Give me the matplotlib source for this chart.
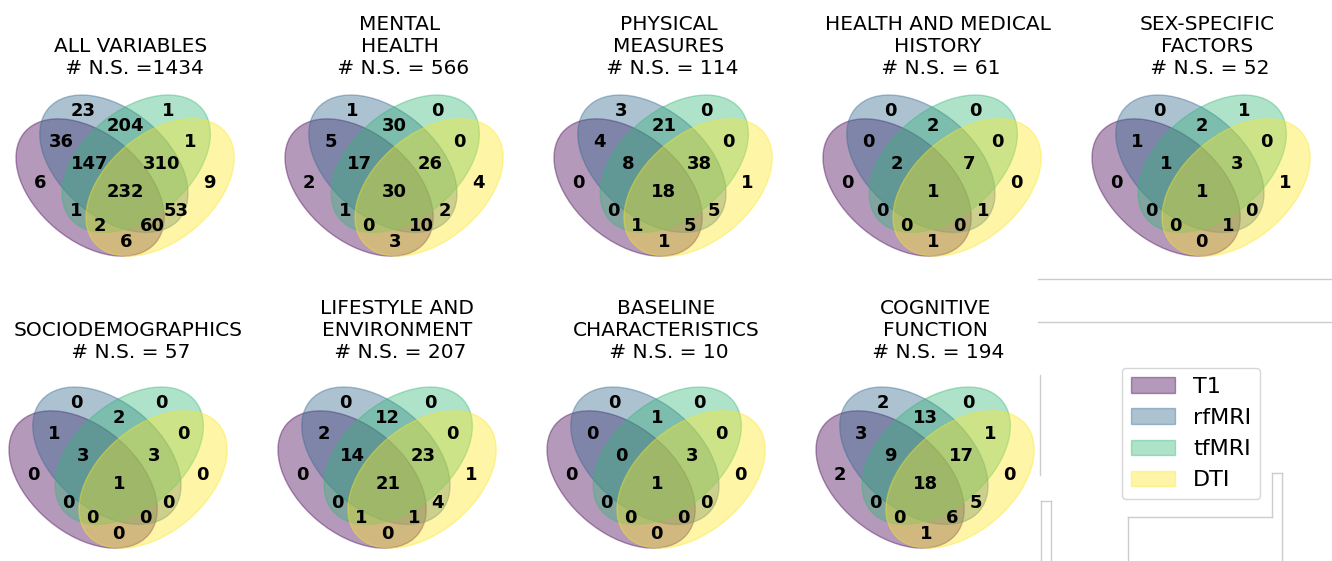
import numpy as np
import matplotlib
matplotlib.use('Agg')
from matplotlib import pyplot as plt
from matplotlib import patches
from matplotlib.lines import Line2D

# four imaging modalities (sets A, B, C, D)
modalities = ['T1', 'rfMRI', 'tfMRI', 'DTI']
# region keys, 1 = inside set (T1 rfMRI tfMRI DTI)
regions = ['1000', '0100', '0010', '0001', '1100', '1010', '1001', '0110',
           '0101', '0011', '1110', '1101', '1011', '0111', '1111']

titles = ['ALL VARIABLES\n # N.S. =1434',
          'MENTAL\nHEALTH\n # N.S. = 566',
          'PHYSICAL\nMEASURES\n # N.S. = 114',
          'HEALTH AND MEDICAL\nHISTORY\n # N.S. = 61',
          'SEX-SPECIFIC\nFACTORS\n # N.S. = 52',
          'SOCIODEMOGRAPHICS\n # N.S. = 57',
          'LIFESTYLE AND\nENVIRONMENT\n # N.S. = 207',
          'BASELINE\nCHARACTERISTICS\n # N.S. = 10',
          'COGNITIVE\nFUNCTION\n # N.S. = 194']

#        1000 0100 0010 0001 1100 1010 1001 0110 0101 0011 1110 1101 1011 0111 1111
all_variables = [6, 23, 1, 9, 36, 1, 6, 204, 53, 1, 147, 60, 2, 310, 232]
mental_health = [2, 1, 0, 4, 5, 1, 3, 30, 2, 0, 17, 10, 0, 26, 30]
physical_measures = [0, 3, 0, 1, 4, 0, 1, 21, 5, 0, 8, 5, 1, 38, 18]
health_medical = [0, 0, 0, 0, 0, 0, 1, 2, 1, 0, 2, 0, 0, 7, 1]
sex_specific = [0, 0, 1, 1, 1, 0, 0, 2, 0, 0, 1, 1, 0, 3, 1]
sociodemographics = [0, 0, 0, 0, 1, 0, 0, 2, 0, 0, 3, 0, 0, 3, 1]
lifestyle = [0, 0, 0, 1, 2, 0, 0, 12, 4, 0, 14, 1, 1, 23, 21]
baseline = [0, 0, 0, 0, 0, 0, 0, 1, 0, 0, 0, 0, 0, 3, 1]
cognitive = [2, 2, 0, 0, 3, 0, 1, 13, 5, 1, 9, 6, 0, 17, 18]

counts = [all_variables, mental_health, physical_measures, health_medical,
          sex_specific, sociodemographics, lifestyle, baseline, cognitive]

colors = [list(c[:3]) + [0.4] for c in plt.cm.viridis(np.linspace(0, 1, 4))]

# pyvenn-style 4 set layout
ellipses = [(0.350, 0.400, 140.0), (0.450, 0.500, 140.0),
            (0.544, 0.500, 40.0), (0.644, 0.400, 40.0)]
label_pos = {'0001': (0.85, 0.42), '0010': (0.68, 0.72), '0011': (0.77, 0.59),
             '0100': (0.32, 0.72), '0101': (0.71, 0.30), '0110': (0.50, 0.66),
             '0111': (0.65, 0.50), '1000': (0.14, 0.42), '1001': (0.50, 0.17),
             '1010': (0.29, 0.30), '1011': (0.39, 0.24), '1100': (0.23, 0.59),
             '1101': (0.61, 0.24), '1110': (0.35, 0.50), '1111': (0.50, 0.38)}

W, H = 1332, 561
scale = 238
fig = plt.figure(figsize=(W / 100, H / 100), dpi=100)


def venn4(x0, ytop, vals, title, tx, ty):
    ax = fig.add_axes([x0 / W, (H - ytop - scale) / H, scale / W, scale / H])
    ax.set_xlim(0, 1)
    ax.set_ylim(0, 1)
    ax.set_axis_off()
    for (x, y, a), c in zip(ellipses, colors):
        ax.add_patch(patches.Ellipse(xy=(x, y), width=0.72, height=0.45,
                                     angle=a, color=c))
    for key, v in zip(regions, vals):
        px, py = label_pos[key]
        ax.text(px, py, str(v), ha='center', va='center', fontsize=13,
                fontweight='bold')
    ax.text(tx, ty, title, ha='center', va='bottom', fontsize=14.5,
            multialignment='center')
    return ax


for i in range(5):
    venn4(6.8 + 269 * i, 44.7, counts[i], titles[i], 0.522, 0.861)
for i in range(4):
    venn4(-0.2 + 269 * i, 336.7, counts[5 + i], titles[5 + i], 0.539, 0.895)

handles = [patches.Patch(color=c) for c in colors]
fig.legend(handles, modalities, loc='upper left', fontsize=16,
           bbox_to_anchor=(1122 / W, 1 - 368 / H), borderaxespad=0)

# leftover frame lines in the empty last cell
segs = [((1038, 279), (1332, 279)), ((1038, 322), (1332, 322)),
        ((1040, 375), (1040, 475)),
        ((1041, 561), (1041, 501)), ((1041, 501), (1051, 501)), ((1051, 501), (1051, 561)),
        ((1128, 561), (1128, 517)), ((1128, 517), (1272, 517)), ((1272, 517), (1272, 473)),
        ((1272, 473), (1282, 473)), ((1282, 473), (1282, 561))]
for (xa, ya), (xb, yb) in segs:
    fig.add_artist(Line2D([xa / W, xb / W], [1 - ya / H, 1 - yb / H],
                          color='0.8', lw=1))

plt.savefig('out.png', dpi=100)
